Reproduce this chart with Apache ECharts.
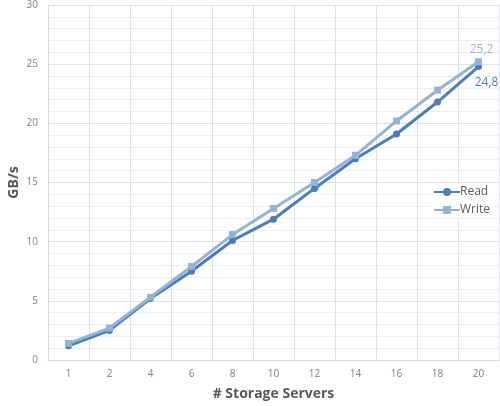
<!DOCTYPE html>
<html><head><meta charset="utf-8">
<script src="https://cdn.jsdelivr.net/npm/echarts@6/dist/echarts.min.js"></script>
<style>html,body{margin:0;padding:0;background:#fff}#c{width:500px;height:406px}</style>
</head><body><div id="c"></div>
<script>
var categories = ['1','2','4','6','8','10','12','14','16','18','20'];
var readValues = [1.2, 2.5, 5.2, 7.5, 10.1, 11.9, 14.5, 17.0, 19.1, 21.8, 24.8];
var writeValues = [1.4, 2.7, 5.3, 7.9, 10.6, 12.8, 15.0, 17.3, 20.2, 22.8, 25.2];
var yTicks = [0, 5, 10, 15, 20, 25, 30];

var readColor = '#4a7ebb';
var writeColor = '#95b3d7';
var font = '"Open Sans", sans-serif';

function withLastLabel(values, labelCfg) {
  return values.map(function (v, i) {
    if (i === values.length - 1) {
      return { value: v, label: labelCfg };
    }
    return v;
  });
}

var chart = echarts.init(document.getElementById('c'));
chart.setOption({
  animation: false,
  backgroundColor: '#fff',
  grid: { left: 48, right: 1, top: 5, bottom: 46, containLabel: false, outerBoundsMode: 'none' },
  legend: {
    orient: 'vertical',
    left: 431,
    top: 184,
    itemGap: 6,
    itemWidth: 26,
    itemHeight: 10,
    backgroundColor: '#fff',
    padding: [2, 4, 2, 2],
    textStyle: { fontFamily: font, fontSize: 12, color: '#595959', padding: [0, 0, 0, -5] },
    data: ['Read', 'Write']
  },
  xAxis: {
    type: 'category',
    data: categories,
    boundaryGap: true,
    name: '# Storage Servers',
    nameLocation: 'middle',
    nameGap: 27,
    nameMoveOverlap: false,
    nameTextStyle: { fontFamily: font, fontSize: 14, fontWeight: 'bold', color: '#595959' },
    axisLine: { show: true, lineStyle: { color: '#d9d9d9', width: 1 } },
    axisTick: { show: false },
    axisLabel: { fontFamily: font, fontSize: 10, color: '#7f7f7f', margin: 9 },
    splitLine: { show: true, interval: 0, lineStyle: { color: '#dde1e8', width: 1 } }
  },
  yAxis: {
    type: 'value',
    min: yTicks[0],
    max: yTicks[yTicks.length - 1],
    interval: 5,
    name: 'GB/s',
    nameLocation: 'middle',
    nameGap: 27,
    nameRotate: 90,
    nameMoveOverlap: false,
    nameTextStyle: { fontFamily: font, fontSize: 14, fontWeight: 'bold', color: '#595959' },
    axisLine: { show: true, lineStyle: { color: '#d9d9d9', width: 1 } },
    axisTick: { show: false },
    axisLabel: { fontFamily: font, fontSize: 10, color: '#7f7f7f', margin: 10 },
    splitLine: { show: true, lineStyle: { color: '#dde1e8', width: 1 } },
    minorTick: { show: false, splitNumber: 5 },
    minorSplitLine: { show: true, lineStyle: { color: '#eceef2', width: 1 } }
  },
  series: [
    {
      name: 'Read',
      type: 'line',
      data: withLastLabel(readValues, {
        show: true, position: 'bottom', offset: [8, 0], distance: 7,
        formatter: function (p) { return String(p.value).replace('.', ','); },
        color: readColor, fontFamily: font, fontSize: 12
      }),
      symbol: 'circle',
      symbolSize: 7,
      lineStyle: { color: readColor, width: 3 },
      itemStyle: { color: readColor },
      z: 2
    },
    {
      name: 'Write',
      type: 'line',
      data: withLastLabel(writeValues, {
        show: true, position: 'top', offset: [3, 0], distance: 3,
        formatter: function (p) { return String(p.value).replace('.', ','); },
        color: writeColor, fontFamily: font, fontSize: 12
      }),
      symbol: 'rect',
      symbolSize: 7,
      lineStyle: { color: writeColor, width: 3 },
      itemStyle: { color: writeColor },
      z: 3
    }
  ]
});
</script>
</body></html>
